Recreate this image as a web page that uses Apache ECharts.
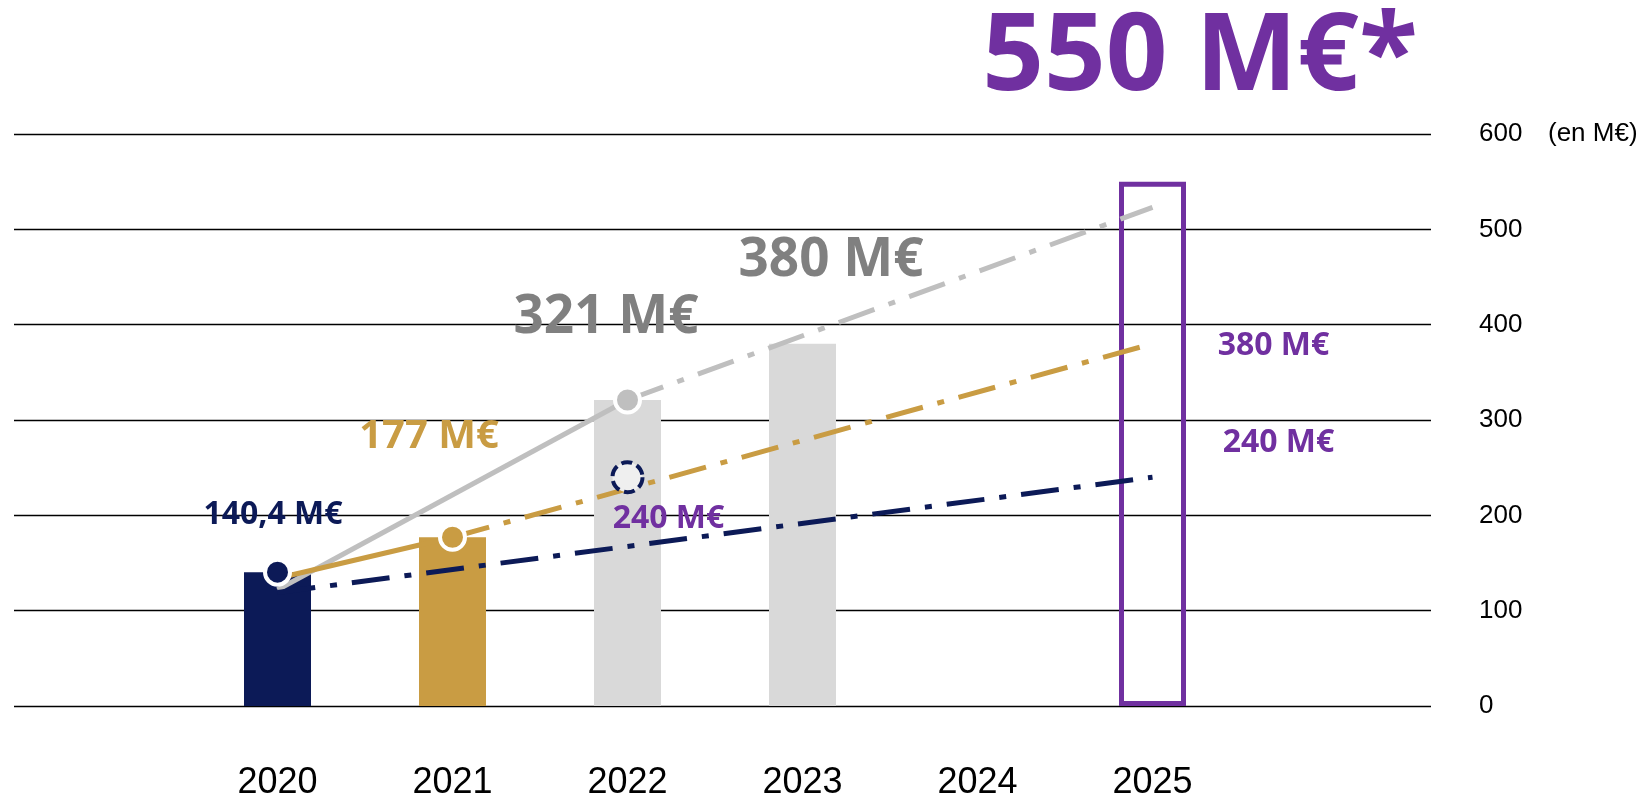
<!DOCTYPE html>
<html>
<head>
<meta charset="utf-8">
<title>Chiffre d'affaires (en M€)</title>
<script src="https://cdn.jsdelivr.net/npm/echarts@6/dist/echarts.min.js"></script>
<style>
  html, body { margin: 0; padding: 0; background: #ffffff; }
  #chart { width: 1643px; height: 797px; }
</style>
</head>
<body>
<div id="chart"></div>
<script>
// Years on the category axis
const years = ['2020', '2021', '2022', '2023', '2024', '2025'];
// Revenue bars (M€); 2024 has no bar, 2025 is the target box
const barValues = [140.4, 177, 321, 380, null, 550];
// Trend lines (M€)
const grayTrend = [122, null, 321, null, null, null];
const grayProjection = [null, null, 321, null, null, 523];
const goldTrend = [134, 177, null, null, null, null];
const goldProjection = [null, 177, null, null, null, 380];
const navyProjection = [119, null, null, null, null, 240];
// Intermediate target marker for 2022 (M€)
const targetMarker = [null, null, 240, null, null, null];
// Value axis range and step
const axisMin = 0;
const axisMax = 600;
const axisStep = 100;

const NAVY = '#0c1a57';
const GOLD = '#c99c43';
const GRAY_BAR = '#d9d9d9';
const GRAY_LINE = '#bfbfbf';
const GRAY_TEXT = '#808080';
const PURPLE = '#7030a0';
const BOLD_FONT = '"Open Sans", "Noto Sans", sans-serif';
const AXIS_FONT = '"Liberation Sans", Arial, sans-serif';
const DASH_DOT = [38, 15, 7, 15];

function fmt(v) {
  return String(v).replace('.', ',') + ' M€';
}

// Per-bar styling and value label placement
const barStyles = [
  { color: NAVY, text: NAVY, size: 32, pos: [29, -57] },
  { color: GOLD, text: GOLD, size: 40, pos: [10, -101] },
  { color: GRAY_BAR, text: GRAY_TEXT, size: 53, pos: [12, -82] },
  { color: GRAY_BAR, text: GRAY_TEXT, size: 53, pos: [62, -83] },
  null,
  { color: 'rgba(0,0,0,0)', border: PURPLE, text: PURPLE, size: 108, pos: [81, -122], suffix: '*' }
];

const barData = barValues.map(function (v, i) {
  const s = barStyles[i];
  if (v == null || !s) return null;
  return {
    value: v,
    itemStyle: s.border
      ? { color: s.color, borderColor: s.border, borderWidth: 5 }
      : { color: s.color },
    label: {
      show: true,
      position: s.pos,
      align: 'center',
      verticalAlign: 'middle',
      formatter: function (p) { return fmt(p.value) + (s.suffix || ''); },
      color: s.text,
      fontFamily: BOLD_FONT,
      fontWeight: 'bold',
      fontSize: s.size
    }
  };
});

// Dots sitting on the top of the first three bars
const dotColors = [NAVY, GOLD, GRAY_LINE];
const dotData = dotColors.map(function (c, i) {
  return { value: [i, barValues[i]], itemStyle: { color: c } };
});

function valueOf(p) {
  return Array.isArray(p.value) ? p.value[1] : p.value;
}

function endLabel(offset) {
  return {
    show: true,
    position: 'inside',
    offset: offset,
    align: 'center',
    verticalAlign: 'middle',
    formatter: function (p) { return fmt(valueOf(p)); },
    color: PURPLE,
    fontFamily: BOLD_FONT,
    fontWeight: 'bold',
    fontSize: 32
  };
}

function withEndLabel(arr, offset) {
  return arr.map(function (v, i) {
    if (v == null) return null;
    if (i === arr.length - 1) return { value: v, label: endLabel(offset) };
    return v;
  });
}

function lineSeries(name, data, color, dashed, z) {
  return {
    name: name,
    type: 'line',
    xAxisIndex: 1,
    yAxisIndex: 1,
    data: data,
    connectNulls: true,
    symbol: 'circle',
    symbolSize: 0,
    showSymbol: true,
    silent: true,
    z: z,
    itemStyle: { color: color },
    lineStyle: { color: color, width: 5, type: dashed ? DASH_DOT : 'solid', cap: 'butt' }
  };
}

const chart = echarts.init(document.getElementById('chart'), null, { renderer: 'canvas' });

chart.setOption({
  animation: false,
  backgroundColor: '#ffffff',
  grid: [
    // full-width grid carrying the horizontal rules and the right-hand scale
    { left: 14, right: 212, top: 134, bottom: 91, containLabel: false, outerBoundsMode: 'none' },
    // grid holding the bars and lines
    { left: 190, width: 1050, top: 134, bottom: 91, containLabel: false, outerBoundsMode: 'none' }
  ],
  xAxis: [
    { gridIndex: 0, type: 'category', data: years, show: false },
    {
      gridIndex: 1,
      type: 'category',
      data: years,
      axisLine: { show: false },
      axisTick: { show: false },
      axisLabel: { color: '#000', fontFamily: AXIS_FONT, fontSize: 36, margin: 59 }
    }
  ],
  yAxis: [
    {
      gridIndex: 0,
      type: 'value',
      position: 'right',
      min: axisMin,
      max: axisMax,
      interval: axisStep,
      axisLine: { show: false },
      axisTick: { show: false },
      axisLabel: { color: '#000', fontFamily: AXIS_FONT, fontSize: 26, margin: 48, align: 'left' },
      splitLine: { lineStyle: { color: '#000', width: 1.4 } }
    },
    {
      gridIndex: 1,
      type: 'value',
      min: axisMin,
      max: axisMax,
      interval: axisStep,
      show: false,
      splitLine: { show: false }
    }
  ],
  graphic: [
    {
      type: 'text',
      left: 1548,
      top: 121,
      style: { text: '(en M€)', fill: '#000', font: '26px ' + AXIS_FONT }
    }
  ],
  series: [
    {
      name: 'CA',
      type: 'bar',
      xAxisIndex: 1,
      yAxisIndex: 1,
      data: barData,
      barWidth: 67,
      z: 1,
      silent: true
    },
    lineSeries('Tendance grise', grayTrend, GRAY_LINE, false, 3),
    lineSeries('Projection grise', grayProjection, GRAY_LINE, true, 3),
    lineSeries('Tendance or', goldTrend, GOLD, false, 3),
    lineSeries('Projection or', withEndLabel(goldProjection, [121, 2]), GOLD, true, 3),
    lineSeries('Projection bleue', withEndLabel(navyProjection, [126, -34]), NAVY, true, 3),
    {
      name: 'Points',
      type: 'scatter',
      xAxisIndex: 1,
      yAxisIndex: 1,
      data: dotData,
      symbolSize: 25,
      z: 4,
      silent: true,
      itemStyle: { opacity: 1, borderColor: '#ffffff', borderWidth: 4 }
    },
    {
      name: 'Objectif intermédiaire',
      type: 'scatter',
      xAxisIndex: 1,
      yAxisIndex: 1,
      data: targetMarker.map(function (v, i) { return v == null ? null : [i, v]; }),
      symbolSize: 30,
      z: 4,
      silent: true,
      itemStyle: { opacity: 1, color: '#efefef', borderColor: NAVY, borderWidth: 4, borderType: [11, 5] },
      label: endLabel([41, 42])
    }
  ]
});
</script>
</body>
</html>
